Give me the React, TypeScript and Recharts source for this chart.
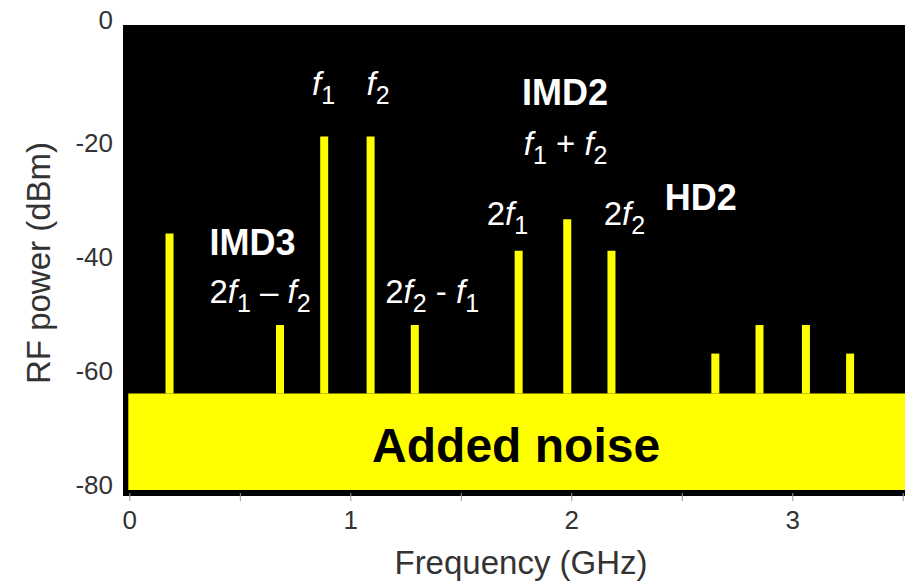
import { BarChart, Bar, XAxis, YAxis, CartesianGrid, ReferenceArea, ReferenceDot } from "recharts";

// spectrum lines: frequency (GHz) and peak power (dBm)
const FREQS = [0.18, 0.68, 0.88, 1.09, 1.29, 1.76, 1.98, 2.18, 2.65, 2.85, 3.06, 3.26];
const POWERS = [-36, -52, -19, -19, -52, -39, -33.5, -39, -57, -52, -52, -57];

// noise pedestal
const NOISE_TOP = -64;
const NOISE_BOTTOM = -81;

const X_DOMAIN: [number, number] = [-0.031, 3.508];
const Y_DOMAIN: [number, number] = [-81.4, 0.5];
const X_TICKS = [0, 0.5, 1, 1.5, 2, 2.5, 3, 3.5];
const Y_TICKS = [0, -20, -40, -60, -80];

const FONT = "'Liberation Sans', Arial, Helvetica, sans-serif";
const YELLOW = "#ffff00";
const AXIS_TEXT = "#333333";

type Part = { t: string; italic?: boolean; sub?: boolean };

// text annotations anchored in data space (freq, dBm), centred, baseline at y
const NOTE_FREQ = [0.877, 1.123, 0.555, 0.589, 1.368, 1.969, 1.972, 1.709, 2.238, 2.584, 1.748];
const NOTE_DBM = [-11.8, -11.8, -39.8, -48.2, -48.2, -13.5, -22.3, -34.5, -34.5, -31.9, -76.0];
const NOTE_TEXT: Part[][] = [
  [{ t: "f", italic: true }, { t: "1", sub: true }],
  [{ t: "f", italic: true }, { t: "2", sub: true }],
  [{ t: "IMD3" }],
  [{ t: "2" }, { t: "f", italic: true }, { t: "1", sub: true }, { t: " – " }, { t: "f", italic: true }, { t: "2", sub: true }],
  [{ t: "2" }, { t: "f", italic: true }, { t: "2", sub: true }, { t: " - " }, { t: "f", italic: true }, { t: "1", sub: true }],
  [{ t: "IMD2" }],
  [{ t: "f", italic: true }, { t: "1", sub: true }, { t: " + " }, { t: "f", italic: true }, { t: "2", sub: true }],
  [{ t: "2" }, { t: "f", italic: true }, { t: "1", sub: true }],
  [{ t: "2" }, { t: "f", italic: true }, { t: "2", sub: true }],
  [{ t: "HD2" }],
  [{ t: "Added noise" }],
];
const NOTE_BOLD = [false, false, true, false, false, true, false, false, false, true, true];
const NOTE_SIZE = [33, 33, 36, 33, 33, 36, 33, 33, 33, 36, 48];
const NOTE_COLOR = ["#fff", "#fff", "#fff", "#fff", "#fff", "#fff", "#fff", "#fff", "#fff", "#fff", "#000"];

const data = FREQS.map((f, i) => ({ freq: f, range: [NOISE_TOP, POWERS[i]] }));

function Formula({ x, y, parts, size, bold, color }: { x: number; y: number; parts: Part[]; size: number; bold: boolean; color: string }) {
  const SUB_SHIFT = 9;
  let shift = 0;
  return (
    <text x={x} y={y} textAnchor="middle" fontSize={size} fontWeight={bold ? 700 : 400} fill={color}
      fontFamily={FONT} style={{ whiteSpace: "pre" }}>
      {parts.map((p, i) => {
        const target = p.sub ? SUB_SHIFT : 0;
        const dy = target - shift;
        shift = target;
        return (
          <tspan key={i} dy={dy} fontStyle={p.italic ? "italic" : undefined}
            fontSize={p.sub ? Math.round(size * 0.75) : undefined}>
            {p.t}
          </tspan>
        );
      })}
    </text>
  );
}

const YTick = (props: any) => {
  const { x, y, payload } = props;
  // the top label sits a little above its gridline
  const lift = payload.value === 0 ? -8 : 0;
  return (
    <text x={x - 10} y={y + lift} dy="0.36em" textAnchor="end" fontSize={26} fill={AXIS_TEXT} fontFamily={FONT}>
      {payload.value}
    </text>
  );
};

const XTick = (props: any) => {
  const { x, y, payload } = props;
  if (!Number.isInteger(payload.value)) return <g />;
  return (
    <text x={x} y={y + 26} textAnchor="middle" fontSize={26} fill={AXIS_TEXT} fontFamily={FONT}>
      {payload.value}
    </text>
  );
};

export default function App() {
  return (
    <div style={{ position: "absolute", left: 0, top: 0, width: 906, height: 583, background: "#fff" }}>
      <BarChart width={906} height={583} data={data} barSize={8}
        margin={{ top: 25, right: 1, left: 0, bottom: 0 }} style={{ fontFamily: FONT }}>
        {/* black plot background */}
        <CartesianGrid horizontal={false} vertical={false} fill="#000" fillOpacity={1} />
        <XAxis dataKey="freq" type="number" domain={X_DOMAIN} ticks={X_TICKS} allowDataOverflow
          height={90} tickSize={8} tickMargin={2}
          axisLine={{ stroke: "#000", strokeWidth: 6 }} tickLine={{ stroke: "#999", strokeWidth: 1 }}
          tick={<XTick />}
          label={{
            content: (p: any) => {
              const vb = p.viewBox;
              return (
                <text x={vb.x + vb.width / 2 + 7} y={vb.y + 81} textAnchor="middle" fontSize={33}
                  fill={AXIS_TEXT} fontFamily={FONT}>Frequency (GHz)</text>
              );
            },
          }} />
        <YAxis type="number" domain={Y_DOMAIN} ticks={Y_TICKS} allowDataOverflow width={123}
          axisLine={false} tickLine={false} tickSize={0} tickMargin={0} tick={<YTick />}
          label={{
            content: (p: any) => {
              const vb = p.viewBox;
              const cx = 50;
              const cy = vb.y + vb.height / 2 + 4;
              return (
                <text x={cx} y={cy} transform={`rotate(-90 ${cx} ${cy})`} textAnchor="middle" fontSize={33}
                  fill={AXIS_TEXT} fontFamily={FONT}>RF power (dBm)</text>
              );
            },
          }} />
        <Bar dataKey="range" fill={YELLOW} isAnimationActive={false} />
        <ReferenceArea x1={-0.007} x2={X_DOMAIN[1]} y1={NOISE_BOTTOM} y2={NOISE_TOP}
          fill={YELLOW} fillOpacity={1} stroke="none" ifOverflow="extendDomain" />
        {NOTE_TEXT.map((parts, i) => (
          <ReferenceDot key={i} x={NOTE_FREQ[i]} y={NOTE_DBM[i]} r={0} fill="none" stroke="none"
            label={{
              content: (p: any) => (
                <Formula x={p.viewBox.x} y={p.viewBox.y} parts={parts} size={NOTE_SIZE[i]}
                  bold={NOTE_BOLD[i]} color={NOTE_COLOR[i]} />
              ),
            }} />
        ))}
      </BarChart>
    </div>
  );
}
